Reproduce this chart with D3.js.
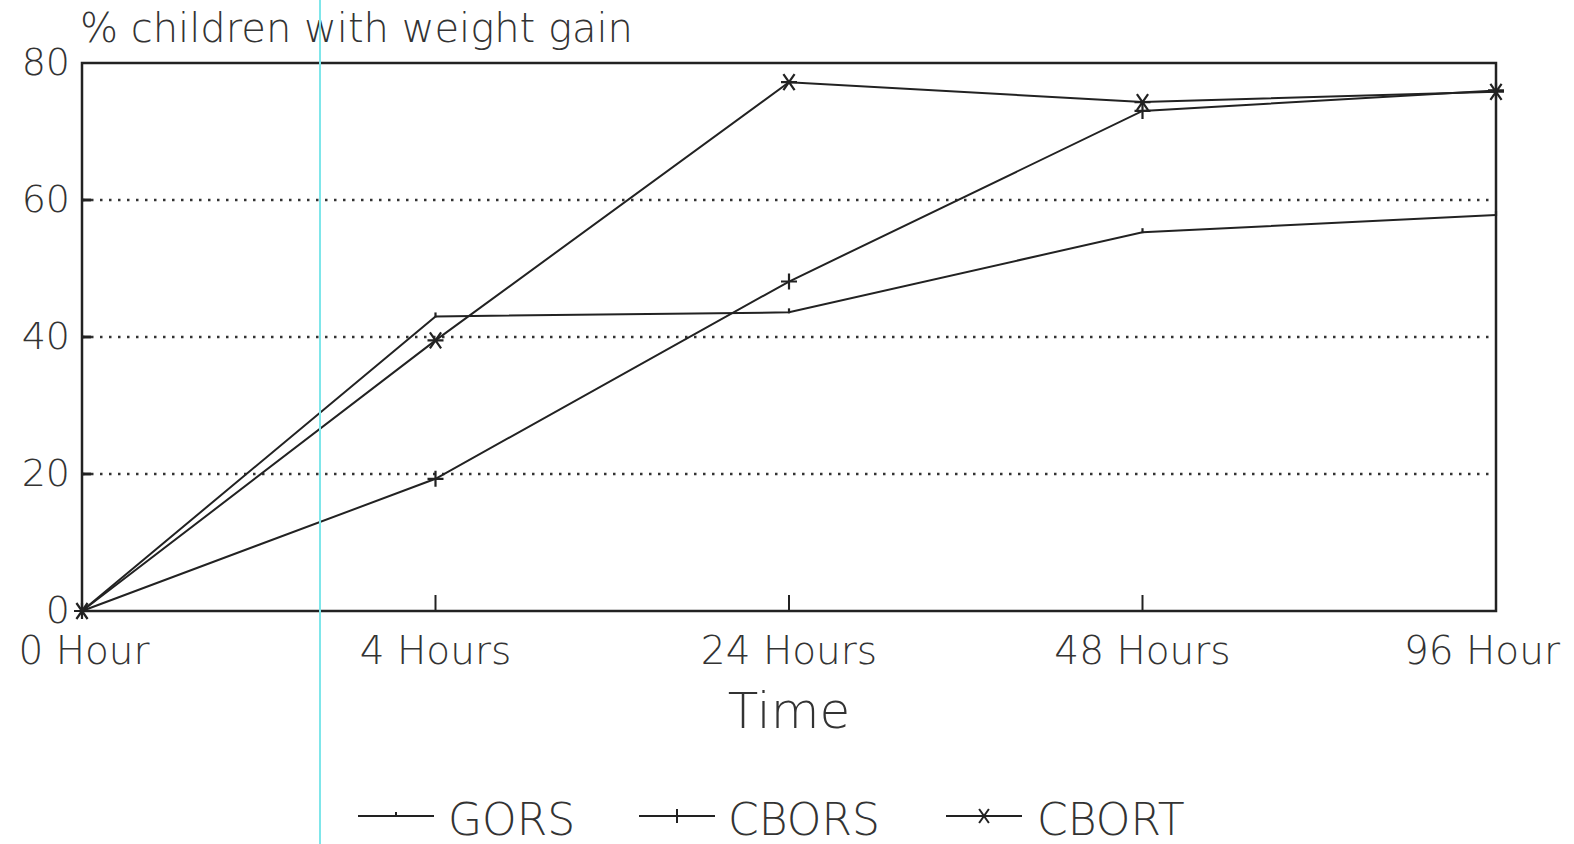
<!DOCTYPE html>
<html>
<head>
<meta charset="utf-8">
<script src="https://cdn.jsdelivr.net/npm/d3@7"></script>
<style>
  html, body { margin: 0; padding: 0; background: #fff; }
  svg { display: block; }
  text { font-family: "DejaVu Sans", sans-serif; font-weight: 200; fill: #333; }
</style>
</head>
<body>
<svg id="chart" width="1574" height="844"></svg>
<script>
// ---- data ----
const categories = ["0 Hour", "4 Hours", "24 Hours", "48 Hours", "96 Hour"];
const gors  = [0, 43.0, 43.6, 55.3, 57.8];
const cbors = [0, 19.3, 48.1, 73.0, 76.0];
const cbort = [0, 39.5, 77.2, 74.3, 75.8];
const seriesNames = ["GORS", "CBORS", "CBORT"];
const yTicks = [0, 20, 40, 60, 80];
const yTitle = "% children with weight gain";
const xTitle = "Time";

// ---- layout ----
const W = 1574, H = 844;
const pLeft = 82, pRight = 1496, pTop = 63, pBottom = 611;
const svg = d3.select("#chart");

const x = d3.scalePoint().domain(categories).range([pLeft, pRight]).padding(0);
const y = d3.scaleLinear().domain([0, 80]).range([pBottom, pTop]);

// gridlines (dotted)
svg.append("g").selectAll("line")
  .data(yTicks.filter(d => d > 0 && d < 80))
  .join("line")
  .attr("x1", pLeft).attr("x2", pRight)
  .attr("y1", d => y(d)).attr("y2", d => y(d))
  .attr("stroke", "#333").attr("stroke-width", 2.5)
  .attr("stroke-dasharray", "2.5,6.5");

// frame
svg.append("rect")
  .attr("x", pLeft).attr("y", pTop)
  .attr("width", pRight - pLeft).attr("height", pBottom - pTop)
  .attr("fill", "none").attr("stroke", "#222").attr("stroke-width", 2.5);

// y ticks (inner)
svg.append("g").selectAll("line")
  .data(yTicks.filter(d => d > 0 && d < 80))
  .join("line")
  .attr("x1", pLeft).attr("x2", pLeft + 9)
  .attr("y1", d => y(d)).attr("y2", d => y(d))
  .attr("stroke", "#222").attr("stroke-width", 3);

// x ticks (inner)
svg.append("g").selectAll("line")
  .data(categories.slice(1, -1))
  .join("line")
  .attr("x1", d => x(d)).attr("x2", d => x(d))
  .attr("y1", pBottom).attr("y2", pBottom - 16)
  .attr("stroke", "#222").attr("stroke-width", 2);

// y labels
svg.append("g").selectAll("text")
  .data(yTicks)
  .join("text")
  .attr("x", pLeft - 12)
  .attr("y", d => y(d) + 12)
  .attr("text-anchor", "end")
  .attr("font-size", 38)
  .text(d => d);

// x labels
svg.append("g").selectAll("text")
  .data(categories)
  .join("text")
  .attr("x", (d, i) => i === categories.length - 1 ? x(d) - 14 : x(d) + (i === 0 ? 2 : 0))
  .attr("y", 664)
  .attr("text-anchor", "middle")
  .attr("font-size", 39)
  .text(d => d);

// titles
svg.append("text")
  .attr("x", 80).attr("y", 42)
  .attr("font-size", 40)
  .attr("textLength", 553).attr("lengthAdjust", "spacingAndGlyphs")
  .text(yTitle);

svg.append("text")
  .attr("x", (pLeft + pRight) / 2).attr("y", 728)
  .attr("text-anchor", "middle")
  .attr("font-size", 50)
  .attr("fill", "#444")
  .text(xTitle);

// ---- series ----
const data = [gors, cbors, cbort];
const line = d3.line().x((d, i) => x(categories[i])).y(d => y(d));

svg.append("g").selectAll("path")
  .data(data)
  .join("path")
  .attr("d", d => line(d))
  .attr("fill", "none")
  .attr("stroke", "#222")
  .attr("stroke-width", 2);

// marker paths
function markerPath(k, cx, cy, s) {
  if (k === 0) { // small tick/dot
    return `M${cx},${cy - 4}L${cx},${cy + 1}`;
  } else if (k === 1) { // plus
    return `M${cx - s},${cy}L${cx + s},${cy}M${cx},${cy - s}L${cx},${cy + s}`;
  } else { // x with horizontal (asterisk-like)
    return `M${cx - s * 0.7},${cy - s}L${cx + s * 0.7},${cy + s}M${cx + s * 0.7},${cy - s}L${cx - s * 0.7},${cy + s}M${cx - s},${cy}L${cx + s},${cy}`;
  }
}

data.forEach((ser, k) => {
  svg.append("g").selectAll("path")
    .data(ser.map((v, i) => ({ v, i })))
    .join("path")
    .attr("d", d => markerPath(k, x(categories[d.i]), y(d.v), 8))
    .attr("fill", "none")
    .attr("stroke", "#222")
    .attr("stroke-width", 2.2);
});

// ---- legend ----
const legendX = [358, 639, 946];
const legendTextX = [448, 728, 1037];
const legY = 816;
const lg = svg.append("g");
seriesNames.forEach((name, k) => {
  lg.append("line")
    .attr("x1", legendX[k]).attr("x2", legendX[k] + 76)
    .attr("y1", legY).attr("y2", legY)
    .attr("stroke", "#222").attr("stroke-width", 2.2);
  lg.append("path")
    .attr("d", markerPath(k, legendX[k] + 38, legY, 7))
    .attr("fill", "none").attr("stroke", "#222").attr("stroke-width", 2);
  lg.append("text")
    .attr("x", legendTextX[k]).attr("y", 835)
    .attr("font-size", 44)
    .text(name);
});

// scan artifact: thin cyan vertical line
svg.append("line")
  .attr("x1", 320).attr("x2", 320)
  .attr("y1", 0).attr("y2", H)
  .attr("stroke", "#7fe6ea").attr("stroke-width", 2);
</script>
</body>
</html>
